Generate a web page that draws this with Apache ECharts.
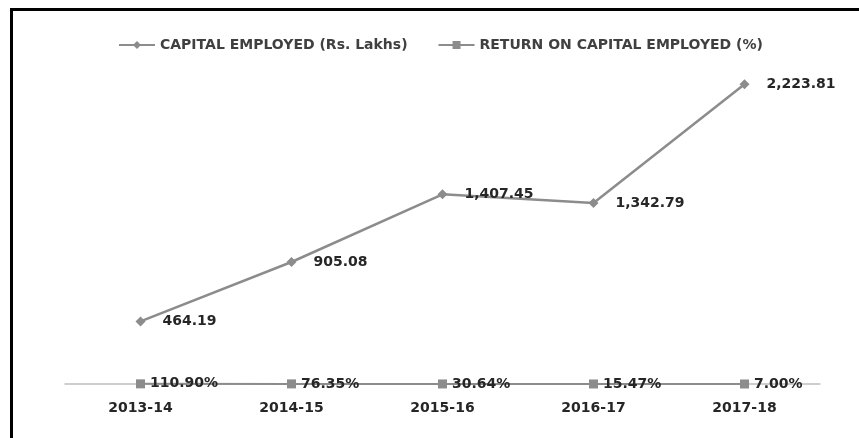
<!DOCTYPE html>
<html>
<head>
<meta charset="utf-8">
<script src="https://cdn.jsdelivr.net/npm/echarts@6/dist/echarts.min.js"></script>
<style>
html,body{margin:0;padding:0;background:#fff;}
#frame{position:absolute;left:10px;top:8px;width:849px;height:430px;border-top:3px solid #000;border-left:3px solid #000;box-sizing:border-box;}
#chart{position:absolute;left:0;top:0;width:859px;height:438px;}
</style>
</head>
<body>
<div id="frame"></div>
<div id="chart"></div>
<script>
var categories = ['2013-14', '2014-15', '2015-16', '2016-17', '2017-18'];
var capitalEmployed = [464.19, 905.08, 1407.45, 1342.79, 2223.81];
var roce = [1.109, 0.7635, 0.3064, 0.1547, 0.07];
var seriesNames = ['CAPITAL EMPLOYED (Rs. Lakhs)', 'RETURN ON CAPITAL EMPLOYED (%)'];

var chart = echarts.init(document.getElementById('chart'));
var labelFont = {fontFamily: 'DejaVu Sans', fontSize: 14, fontWeight: 'bold', color: '#262626'};
chart.setOption({
  animation: false,
  legend: {
    top: 33,
    left: 113,
    itemGap: 30,
    itemWidth: 36,
    itemHeight: 10,
    textStyle: {fontFamily: 'DejaVu Sans', fontSize: 14, fontWeight: 'bold', color: '#404040'},
    data: seriesNames
  },
  grid: {left: 65, right: 39, top: 47, bottom: 54},
  xAxis: {
    type: 'category',
    data: categories,
    boundaryGap: true,
    axisLine: {lineStyle: {color: '#bfbfbf', width: 1.5}},
    axisTick: {show: false},
    axisLabel: {fontFamily: 'DejaVu Sans', fontSize: 14, fontWeight: 'bold', color: '#262626', margin: 17}
  },
  yAxis: {
    type: 'value',
    min: 0,
    max: 2500,
    show: false,
    splitLine: {show: false}
  },
  series: [
    {
      name: seriesNames[0],
      type: 'line',
      data: capitalEmployed,
      symbol: 'diamond',
      symbolSize: 10,
      lineStyle: {color: '#8c8c8c', width: 2.5},
      itemStyle: {color: '#8c8c8c'},
      label: Object.assign({
        show: true,
        position: 'right',
        distance: 17,
        formatter: function (p) {
          return p.value.toLocaleString('en-US', {minimumFractionDigits: 2, maximumFractionDigits: 2});
        }
      }, labelFont)
    },
    {
      name: seriesNames[1],
      type: 'line',
      data: roce,
      symbol: 'rect',
      symbolSize: 9,
      lineStyle: {color: '#8c8c8c', width: 2},
      itemStyle: {color: '#8c8c8c'},
      label: Object.assign({
        show: true,
        position: 'right',
        distance: 5,
        formatter: function (p) {
          return (p.value * 100).toFixed(2) + '%';
        }
      }, labelFont)
    }
  ]
});
</script>
</body>
</html>
